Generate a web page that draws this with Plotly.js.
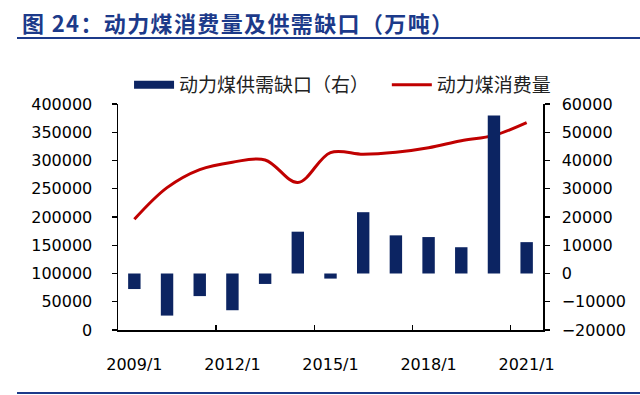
<!DOCTYPE html>
<html>
<head>
<meta charset="utf-8">
<script src="https://cdn.plot.ly/plotly-3.0.1.min.js"></script>
<style>body{margin:0;padding:0;background:#fff;}#chart{width:640px;height:395px;}</style>
</head>
<body>
<div id="chart"></div>
<script>
// Data
const years = [2009, 2010, 2011, 2012, 2013, 2014, 2015, 2016, 2017, 2018, 2019, 2020, 2021];
const gapValues = [-5500, -14900, -8000, -13000, -3700, 14800, -1800, 21700, 13500, 12900, 9300, 55900, 11100];
const consumption = [196000, 252000, 284000, 297000, 301000, 261000, 314000, 311000, 314500, 322500, 335000, 344500, 367000];
const tickYears = [2009, 2012, 2015, 2018, 2021];
const tickLabels = ['2009/1', '2012/1', '2015/1', '2018/1', '2021/1'];
const boundaryTicks = [2011.5, 2014.5, 2017.5, 2020.5];
const gapName = '动力煤供需缺口（右）';
const lineName = '动力煤消费量';
const titleText = '图 24：动力煤消费量及供需缺口（万吨）';

const navy = '#0c2462';
const red = '#c00000';
const blueTitle = '#1c3a8a';
const tickFont = {family: 'DejaVu Sans, sans-serif', size: 16, color: '#000'};

// spread title characters slightly (hair spaces), as in the reference
const spacedTitle = Array.from(titleText).join('\u200A');

const traces = [
  {type: 'bar', x: years, y: gapValues, yaxis: 'y2', xaxis: 'x', width: 0.38,
   marker: {color: navy}, showlegend: false, name: gapName, hoverinfo: 'skip'},
  {type: 'scatter', mode: 'lines', x: [null], y: [null], yaxis: 'y2', name: gapName + '\u00a0\u00a0\u00a0',
   line: {color: navy, width: 8}},
  {type: 'scatter', mode: 'lines', x: years, y: consumption, name: lineName,
   line: {color: red, width: 3, shape: 'spline', smoothing: 1}}
];

const xr = [2008.5, 2021.5];
const layout = {
  width: 640, height: 395,
  margin: {l: 118, r: 97, t: 104, b: 65},
  paper_bgcolor: '#fff', plot_bgcolor: '#fff',
  title: {text: '<b>' + spacedTitle + '</b>', x: 22/640, xanchor: 'left', xref: 'container',
          y: 1 - 24/395, yanchor: 'middle', yref: 'container',
          font: {family: 'Noto Sans CJK SC, sans-serif', size: 22, color: blueTitle}},
  showlegend: true,
  legend: {orientation: 'h', x: 0.026, xanchor: 'left', y: 1.085, yanchor: 'middle',
           font: {family: 'Noto Sans CJK SC, sans-serif', size: 19, color: '#222'},
           bgcolor: 'rgba(0,0,0,0)', traceorder: 'normal', itemwidth: 40},
  xaxis: {range: xr, tickvals: tickYears, ticktext: tickLabels, ticks: '',
          showline: true, linecolor: '#000', linewidth: 1.5, showgrid: false, zeroline: false,
          tickfont: tickFont, ticklabelstandoff: 19, fixedrange: true},
  xaxis2: {range: xr, overlaying: 'x', side: 'bottom', tickvals: boundaryTicks, ticks: 'inside',
           ticklen: 5, tickwidth: 1.2, tickcolor: '#000', showticklabels: false, showline: false,
           showgrid: false, zeroline: false, anchor: 'y'},
  yaxis: {range: [0, 400000], dtick: 50000, tick0: 0, ticks: 'outside', ticklen: 5, tickwidth: 1.2,
          tickcolor: '#000', showline: true, linecolor: '#000', linewidth: 1.5, showgrid: false,
          zeroline: false, tickfont: tickFont, tickformat: 'd', ticklabelstandoff: 16},
  yaxis2: {range: [-20000, 60000], dtick: 10000, tick0: 0, ticks: 'outside', ticklen: 5, tickwidth: 1.2,
           tickcolor: '#000', showline: true, linecolor: '#000', linewidth: 1.5, showgrid: false,
           zeroline: false, overlaying: 'y', side: 'right', tickfont: tickFont, tickformat: 'd',
           ticklabelstandoff: 9},
  shapes: [
    {type: 'line', xref: 'paper', yref: 'paper', x0: (17-118)/425, x1: (640-118)/425,
     y0: (330-38)/226, y1: (330-38)/226, line: {color: blueTitle, width: 2}},
    {type: 'line', xref: 'paper', yref: 'paper', x0: (17-118)/425, x1: (640-118)/425,
     y0: (330-393)/226, y1: (330-393)/226, line: {color: blueTitle, width: 2}}
  ]
};
// dummy trace so the boundary tick axis is drawn
traces.push({type: 'scatter', x: [null], y: [null], xaxis: 'x2', showlegend: false, hoverinfo: 'skip'});

Plotly.newPlot('chart', traces, layout, {displayModeBar: false, staticPlot: true});
</script>
</body>
</html>
